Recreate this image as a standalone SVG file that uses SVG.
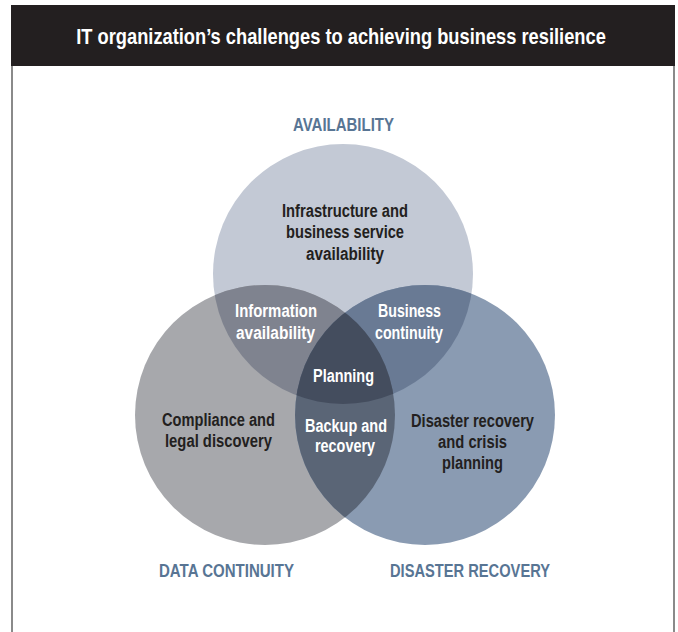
<svg xmlns="http://www.w3.org/2000/svg" width="678" height="632" viewBox="0 0 678 632">
<style>
.t{font-family:"Liberation Sans",Arial,sans-serif;font-weight:bold;text-anchor:middle}
.title{font-size:21.5px;fill:#ffffff}
.cat{font-size:17.5px;fill:#587594}
.dk{font-size:17.5px;fill:#231f20}
.lt{font-size:17.5px;fill:#ffffff}
</style>
<defs>
<clipPath id="cTop"><circle cx="343" cy="274" r="130"/></clipPath>
<clipPath id="cLeft"><circle cx="265" cy="415" r="130"/></clipPath>
<clipPath id="cRight"><circle cx="425" cy="415" r="130"/></clipPath>
</defs>
<rect x="0" y="0" width="678" height="632" fill="#ffffff"/>
<g id="frame">
<line x1="12" y1="5" x2="12" y2="632" stroke="#8a8a8a" stroke-width="2"/>
<line x1="674" y1="5" x2="674" y2="632" stroke="#8a8a8a" stroke-width="2"/>
<rect x="11" y="5" width="664" height="61" fill="#231f20"/>
<text class="t title" transform="matrix(0.8 0 0 1 341 44)" x="0" y="0" textLength="662" lengthAdjust="spacingAndGlyphs">IT organization’s challenges to achieving business resilience</text>
</g>
<g id="availability">
<circle cx="343" cy="274" r="130" fill="#c3c9d5"/>
<text class="t cat" x="343.5" y="131" textLength="101" lengthAdjust="spacingAndGlyphs">AVAILABILITY</text>
<text class="t dk" x="345" y="217" textLength="126" lengthAdjust="spacingAndGlyphs">Infrastructure and</text>
<text class="t dk" x="345" y="238" textLength="118" lengthAdjust="spacingAndGlyphs">business service</text>
<text class="t dk" x="345" y="260" textLength="78" lengthAdjust="spacingAndGlyphs">availability</text>
</g>
<g id="data-continuity">
<circle cx="265" cy="415" r="130" fill="#a7a8ac"/>
<text class="t cat" x="226.5" y="577" textLength="135" lengthAdjust="spacingAndGlyphs">DATA CONTINUITY</text>
<text class="t dk" x="218.5" y="426" textLength="113" lengthAdjust="spacingAndGlyphs">Compliance and</text>
<text class="t dk" x="218.5" y="447" textLength="107" lengthAdjust="spacingAndGlyphs">legal discovery</text>
</g>
<g id="disaster-recovery">
<circle cx="425" cy="415" r="130" fill="#8a9bb2"/>
<text class="t cat" x="470" y="577" textLength="160" lengthAdjust="spacingAndGlyphs">DISASTER RECOVERY</text>
<text class="t dk" x="472.5" y="427" textLength="123" lengthAdjust="spacingAndGlyphs">Disaster recovery</text>
<text class="t dk" x="472.5" y="448" textLength="69" lengthAdjust="spacingAndGlyphs">and crisis</text>
<text class="t dk" x="472.5" y="469" textLength="61" lengthAdjust="spacingAndGlyphs">planning</text>
</g>
<g id="information-availability">
<g clip-path="url(#cTop)"><circle cx="265" cy="415" r="130" fill="#7f838f"/></g>
<text class="t lt" x="276" y="317" textLength="82" lengthAdjust="spacingAndGlyphs">Information</text>
<text class="t lt" x="275.5" y="339" textLength="79" lengthAdjust="spacingAndGlyphs">availability</text>
</g>
<g id="business-continuity">
<g clip-path="url(#cTop)"><circle cx="425" cy="415" r="130" fill="#697a94"/></g>
<text class="t lt" x="409.5" y="317" textLength="63" lengthAdjust="spacingAndGlyphs">Business</text>
<text class="t lt" x="409" y="339" textLength="68" lengthAdjust="spacingAndGlyphs">continuity</text>
</g>
<g id="backup-recovery">
<g clip-path="url(#cLeft)"><circle cx="425" cy="415" r="130" fill="#5a6576"/></g>
<text class="t lt" x="346" y="432" textLength="82" lengthAdjust="spacingAndGlyphs">Backup and</text>
<text class="t lt" x="345" y="452" textLength="60" lengthAdjust="spacingAndGlyphs">recovery</text>
</g>
<g id="planning">
<g clip-path="url(#cTop)"><g clip-path="url(#cLeft)"><circle cx="425" cy="415" r="130" fill="#444d5e"/></g></g>
<text class="t lt" x="343.5" y="382" textLength="61" lengthAdjust="spacingAndGlyphs">Planning</text>
</g>
<g id="connectors"></g>
</svg>
